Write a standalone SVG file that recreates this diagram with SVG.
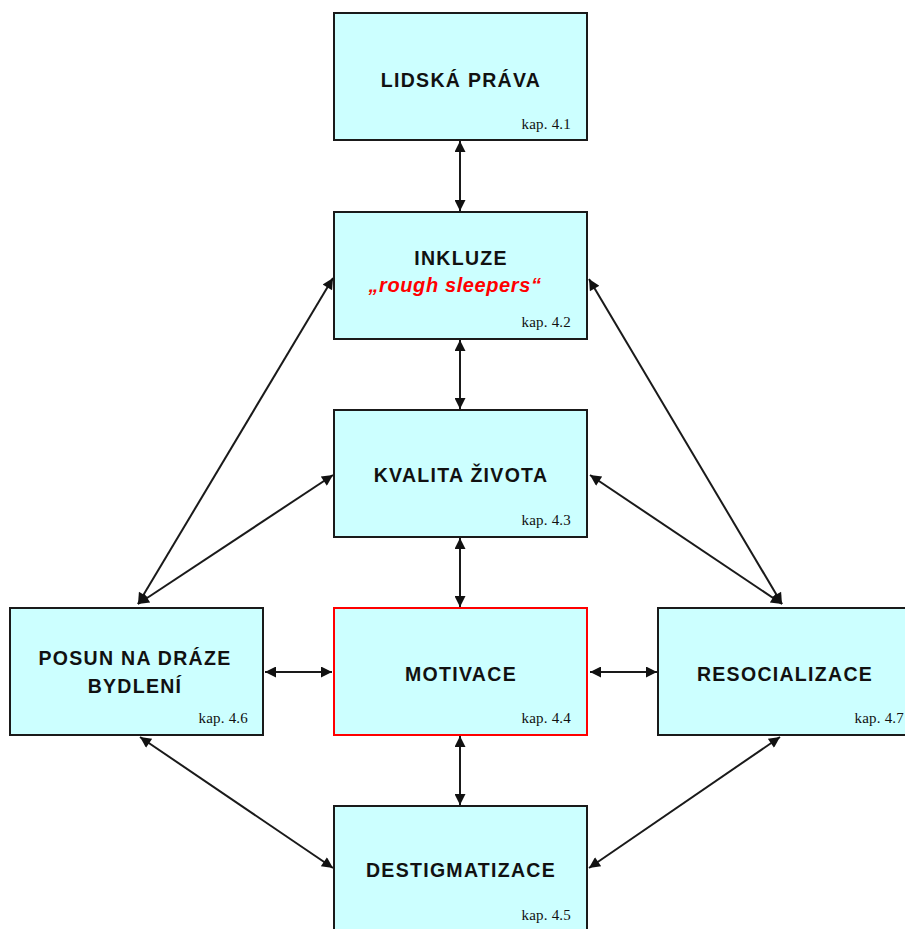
<svg xmlns="http://www.w3.org/2000/svg" width="905" height="929" viewBox="0 0 905 929">
<style>
.box{fill:#ccffff;stroke:#1a1a1a;stroke-width:2}
.red{fill:#ccffff;stroke:#ff0000;stroke-width:2}
.t{font-family:"Liberation Sans",Arial,sans-serif;font-weight:bold;font-size:19.5px;letter-spacing:1.3px;fill:#111;text-anchor:middle}
.r{font-family:"Liberation Sans",Arial,sans-serif;font-weight:bold;font-style:italic;font-size:20px;letter-spacing:0.6px;fill:#ff0000;text-anchor:middle}
.k{font-family:"Liberation Serif","Times New Roman",serif;font-size:15px;letter-spacing:0.2px;fill:#111;text-anchor:end}
.c{stroke:#1a1a1a;stroke-width:2;fill:none;marker-start:url(#ah);marker-end:url(#ah)}
</style>
<defs>
<marker id="ah" viewBox="0 0 10 10" refX="10" refY="5" markerWidth="6.5" markerHeight="5.5" orient="auto-start-reverse" markerUnits="strokeWidth">
<path d="M0,0 L10,5 L0,10 z" fill="#111"/>
</marker>
</defs>
<rect width="905" height="929" fill="#ffffff"/>
<g id="connectors">
<line class="c" x1="460" y1="141" x2="460" y2="211"/>
<line class="c" x1="460" y1="340" x2="460" y2="409"/>
<line class="c" x1="460" y1="538" x2="460" y2="607"/>
<line class="c" x1="460" y1="736" x2="460" y2="805"/>
<line class="c" x1="265" y1="672" x2="332" y2="672"/>
<line class="c" x1="590" y1="672" x2="657" y2="672"/>
<line class="c" x1="138" y1="604" x2="333" y2="278"/>
<line class="c" x1="138" y1="604" x2="333" y2="475"/>
<line class="c" x1="782" y1="604" x2="589" y2="279"/>
<line class="c" x1="782" y1="604" x2="590" y2="475"/>
<line class="c" x1="140" y1="737" x2="333" y2="868"/>
<line class="c" x1="780" y1="737" x2="589" y2="868"/>
</g>
<g id="n1">
<rect class="box" x="334" y="13" width="253" height="127"/>
<text class="t" x="461" y="87">LIDSKÁ PRÁVA</text>
<text class="k" x="571" y="129">kap. 4.1</text>
</g>
<g id="n2">
<rect class="box" x="334" y="212" width="253" height="127"/>
<text class="t" x="461" y="265">INKLUZE</text>
<text class="r" x="455" y="292">„rough sleepers“</text>
<text class="k" x="571" y="327">kap. 4.2</text>
</g>
<g id="n3">
<rect class="box" x="334" y="410" width="253" height="127"/>
<text class="t" x="461" y="482">KVALITA ŽIVOTA</text>
<text class="k" x="571" y="525">kap. 4.3</text>
</g>
<g id="n4">
<rect class="red" x="334" y="608" width="253" height="127"/>
<text class="t" x="461" y="681">MOTIVACE</text>
<text class="k" x="571" y="723">kap. 4.4</text>
</g>
<g id="n6">
<rect class="box" x="10" y="608" width="253" height="127"/>
<text class="t" x="135" y="665">POSUN NA DRÁZE</text>
<text class="t" x="135" y="693">BYDLENÍ</text>
<text class="k" x="248" y="723">kap. 4.6</text>
</g>
<g id="n7">
<rect class="box" x="658" y="608" width="253" height="127"/>
<text class="t" x="785" y="681">RESOCIALIZACE</text>
<text class="k" x="904" y="723">kap. 4.7</text>
</g>
<g id="n5">
<rect class="box" x="334" y="806" width="253" height="135"/>
<text class="t" x="461" y="877">DESTIGMATIZACE</text>
<text class="k" x="571" y="920">kap. 4.5</text>
</g>
</svg>
